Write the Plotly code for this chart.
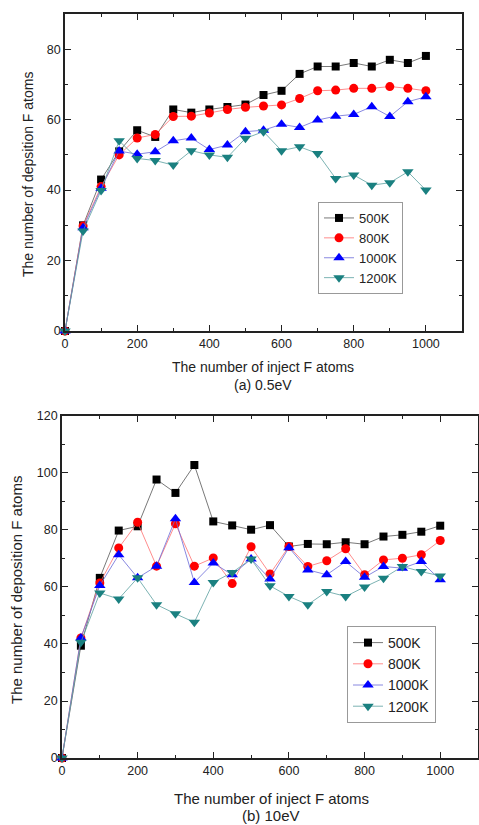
import plotly.graph_objects as go

x_vals = [0, 50, 100, 150, 200, 250, 300, 350, 400, 450, 500, 550, 600, 650, 700, 750, 800, 850, 900, 950, 1000]

# (a) 0.5eV
a_500 = [0, 30, 43, 51, 57, 55.1, 62.9, 62, 62.9, 63.6, 64.3, 67, 68.2, 73, 75.1, 75.1, 76.1, 75.1, 77, 76.1, 78.1]
a_800 = [0, 29.8, 41, 50, 54.8, 55.8, 60.9, 61, 61.9, 62.9, 63.5, 63.9, 64.2, 66, 68.2, 68.4, 68.9, 68.9, 69.4, 68.9, 68.2]
a_1000 = [0, 29.3, 40.5, 51.1, 50.2, 50.9, 54, 54.8, 51.5, 52.8, 56.6, 57, 58.7, 57.8, 59.9, 61, 61.5, 63.7, 60.9, 65.1, 66.5]
a_1200 = [0, 28.4, 39.9, 54, 49, 48.4, 47.1, 51.2, 50, 49.3, 54.7, 56.6, 51.2, 52.3, 50.4, 43.3, 44.3, 41.4, 42.1, 45.2, 40]

# (b) 10eV
b_500 = [0, 39.4, 63.2, 79.8, 81.3, 97.7, 93, 102.8, 83, 81.6, 80.1, 81.7, 74.2, 75.1, 75, 75.7, 75, 77.7, 78.3, 79.4, 81.5]
b_800 = [0, 42.1, 61.4, 73.7, 82.7, 67.3, 82.2, 67.3, 70.2, 61.2, 74.1, 64.6, 74.2, 67.2, 69.2, 73.4, 64.3, 69.5, 70.1, 71.3, 76.3]
b_1000 = [0, 42.1, 60.5, 71.3, 63.2, 67.3, 83.9, 61.6, 68.4, 64.3, 69.8, 62.8, 73.8, 66, 64.3, 68.9, 63.4, 67.2, 66.6, 68.9, 62.5]
b_1200 = [0, 40.6, 57.9, 55.8, 63.2, 53.8, 50.6, 47.6, 61.6, 65.1, 69.8, 60.4, 56.7, 53.8, 58.4, 56.7, 60, 63.1, 67.2, 65.4, 63.9]

series_names = ["500K", "800K", "1000K", "1200K"]
colors = ["#000000", "#ff0000", "#0000ff", "#1a8080"]
line_colors = ["#555555", "#ff7070", "#6a6ad8", "#5aa0a0"]
symbols = ["square", "circle", "triangle-up", "triangle-down"]
sizes = [8, 9, 10, 10]

fig = go.Figure()

for i, ys in enumerate([a_500, a_800, a_1000, a_1200]):
    fig.add_trace(go.Scatter(
        x=x_vals, y=ys, name=series_names[i], mode="lines+markers",
        line=dict(color=line_colors[i], width=0.8),
        marker=dict(symbol=symbols[i], color=colors[i], size=sizes[i]),
        xaxis="x", yaxis="y", legend="legend", cliponaxis=False))

for i, ys in enumerate([b_500, b_800, b_1000, b_1200]):
    fig.add_trace(go.Scatter(
        x=x_vals, y=ys, name=series_names[i], mode="lines+markers",
        line=dict(color=line_colors[i], width=0.8),
        marker=dict(symbol=symbols[i], color=colors[i], size=sizes[i]),
        xaxis="x2", yaxis="y2", legend="legend2", cliponaxis=False))

axis_common = dict(
    showgrid=False, zeroline=False, showline=True, linecolor="#222222", linewidth=1.5,
    mirror="ticks", ticks="inside", ticklen=6, tickwidth=1.2, tickcolor="#222222",
    tickfont=dict(family="Liberation Sans, Arial", size=12.5, color="#222222"),
    automargin=False,
)

fig.update_layout(
    width=479, height=825,
    margin=dict(l=0, r=0, t=0, b=0, autoexpand=False),
    paper_bgcolor="white", plot_bgcolor="white",
    font=dict(family="Liberation Sans, Arial", color="#222222"),
    xaxis=dict(domain=[0.1357, 0.9645], range=[0, 1100], tickvals=[0, 200, 400, 600, 800, 1000],
               minor=dict(dtick=100, ticks="inside", ticklen=3, tickcolor="#222222"),
               anchor="y", **axis_common),
    yaxis=dict(domain=[0.5988, 0.983], range=[0, 90], tickvals=[0, 20, 40, 60, 80],
               minor=dict(dtick=10, ticks="inside", ticklen=3, tickcolor="#222222"),
               anchor="x", **axis_common),
    xaxis2=dict(domain=[0.1294, 0.998], range=[0, 1100], tickvals=[0, 200, 400, 600, 800, 1000],
                minor=dict(dtick=100, ticks="inside", ticklen=3, tickcolor="#222222"),
                anchor="y2", **axis_common),
    yaxis2=dict(domain=[0.0812, 0.4958], range=[0, 120], tickvals=[0, 20, 40, 60, 80, 100, 120],
                minor=dict(dtick=10, ticks="inside", ticklen=3, tickcolor="#222222"),
                anchor="x2", **axis_common),
    legend=dict(x=318 / 479, y=1 - 202 / 825, xanchor="left", yanchor="top",
                bgcolor="white", bordercolor="#999999", borderwidth=1,
                font=dict(size=13, family="Liberation Sans, Arial"), tracegroupgap=0,
                itemwidth=30),
    legend2=dict(x=347 / 479, y=1 - 626 / 825, xanchor="left", yanchor="top",
                 bgcolor="white", bordercolor="#999999", borderwidth=1,
                 font=dict(size=14, family="Liberation Sans, Arial"), tracegroupgap=0,
                 itemwidth=30),
    showlegend=True,
)

ann_font = dict(family="Liberation Sans, Arial", size=14, color="#222222")


def label(text, px, py, size=14, angle=0):
    fig.add_annotation(text=text, x=px / 479, y=1 - py / 825, xref="paper", yref="paper",
                       xanchor="center", yanchor="middle", showarrow=False, textangle=angle,
                       font=dict(ann_font, size=size))


label("The number of inject F atoms", 263, 367)
label("(a) 0.5eV", 263, 385)
label("The number of depsition F atoms", 28, 175, angle=-90)
label("The number of inject F atoms", 271, 798, size=15)
label("(b) 10eV", 271, 815, size=15)
label("The number of deposition F atoms", 16, 590, size=15, angle=-90)

fig.write_html("out.html", config={"displayModeBar": False},
               post_script="document.body.style.margin='0';document.body.style.padding='0';")
